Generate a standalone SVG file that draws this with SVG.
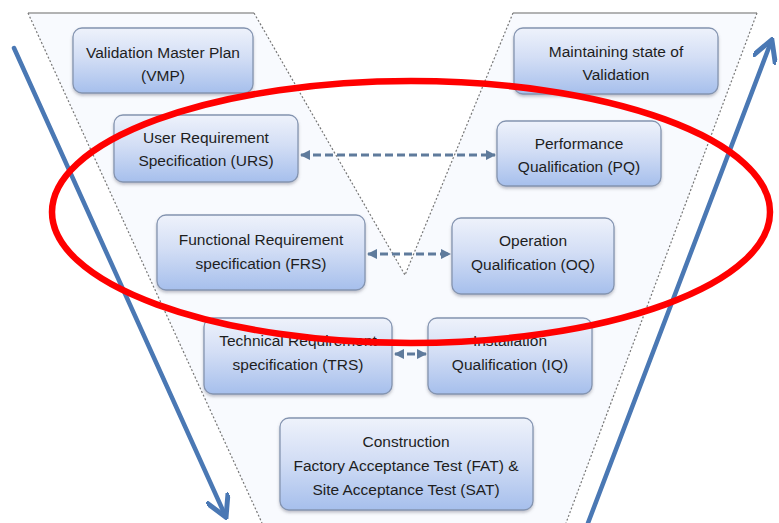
<svg xmlns="http://www.w3.org/2000/svg" width="779" height="523" viewBox="0 0 779 523">
  <defs>
    <linearGradient id="boxFill" x1="0" y1="0" x2="0" y2="1">
      <stop offset="0" stop-color="#eef2fb"/>
      <stop offset="0.45" stop-color="#d3def5"/>
      <stop offset="1" stop-color="#a6bfec"/>
    </linearGradient>
    <filter id="shadow" x="-10%" y="-10%" width="120%" height="130%">
      <feDropShadow dx="0" dy="2" stdDeviation="1.5" flood-color="#556" flood-opacity="0.35"/>
    </filter>
    <marker id="headLink" viewBox="0 0 10 10" refX="9" refY="5" markerWidth="3.5" markerHeight="3.5" orient="auto-start-reverse">
      <path d="M0,0 L10,5 L0,10 z" fill="#5f7b9c"/>
    </marker>
    <marker id="headFlow" viewBox="0 0 10 10" refX="8" refY="5" markerWidth="5.5" markerHeight="5.5" orient="auto">
      <path d="M0,0 L9,5 L0,10" fill="none" stroke="#4a78b4" stroke-width="2"/>
    </marker>
  </defs>
  <style>
    .box { fill: url(#boxFill); stroke: #8494b0; stroke-width: 1.3; filter: url(#shadow); }
    .label { font-family: "Liberation Sans", Arial, sans-serif; font-size: 15.5px; fill: #1e1e1e; text-anchor: middle; }
    .edge { fill: none; stroke: #9a9a9a; stroke-width: 1.6; }
    .guide { fill: none; stroke: #777; stroke-width: 1.2; stroke-dasharray: 2 2; }
    .flow { fill: none; stroke: #4a78b4; stroke-width: 4.5; stroke-linecap: round; }
    .link { fill: none; stroke: #5f7b9c; stroke-width: 3; stroke-dasharray: 8 4; }
    .ring { fill: none; stroke: #ff0000; stroke-width: 6.5; }
  </style>

  <rect width="779" height="523" fill="#ffffff"/>

  <!-- funnel outline -->
  <g id="frame">
    <path d="M28,13 L262,523 L566,523 L757,13 Z" fill="#f8fafe" stroke="none"/>
    <path d="M254,13 L405,275 L513,13 Z" fill="#ffffff" stroke="none"/>
    <line class="edge" x1="28" y1="13" x2="254" y2="13"/>
    <line class="edge" x1="513" y1="13" x2="757" y2="13"/>
    <line class="guide" x1="28" y1="13" x2="262" y2="523"/>
    <line class="guide" x1="254" y1="13" x2="405" y2="275"/>
    <line class="guide" x1="513" y1="13" x2="405" y2="275"/>
    <line class="guide" x1="757" y1="13" x2="566" y2="523"/>
  </g>

  <!-- process direction arrows -->
  <g id="flows">
    <line class="flow" x1="14" y1="48" x2="225" y2="515" marker-end="url(#headFlow)"/>
    <line class="flow" x1="588" y1="523" x2="771" y2="42" marker-end="url(#headFlow)"/>
  </g>

  <!-- links between specification and qualification stages -->
  <g id="connectors">
    <line class="link" x1="301" y1="155" x2="495" y2="155" marker-start="url(#headLink)" marker-end="url(#headLink)"/>
    <line class="link" x1="368" y1="254" x2="450" y2="254" marker-start="url(#headLink)" marker-end="url(#headLink)"/>
    <line class="link" x1="395" y1="354" x2="426" y2="354" marker-start="url(#headLink)" marker-end="url(#headLink)"/>
  </g>

  <g id="vmp">
    <rect class="box" x="73" y="28" width="180" height="65" rx="9"/>
    <text class="label" x="163" y="58">Validation Master Plan</text>
    <text class="label" x="163" y="81">(VMP)</text>
  </g>
  <g id="urs">
    <rect class="box" x="114" y="115" width="184" height="67" rx="9"/>
    <text class="label" x="206" y="143">User Requirement</text>
    <text class="label" x="206" y="166">Specification (URS)</text>
  </g>
  <g id="frs">
    <rect class="box" x="157" y="215" width="208" height="75" rx="9"/>
    <text class="label" x="261" y="245">Functional Requirement</text>
    <text class="label" x="261" y="269">specification (FRS)</text>
  </g>
  <g id="trs">
    <rect class="box" x="204" y="318" width="188" height="76" rx="9"/>
    <text class="label" x="298" y="346">Technical Requirement</text>
    <text class="label" x="298" y="370">specification (TRS)</text>
  </g>
  <g id="maintain">
    <rect class="box" x="514" y="28" width="204" height="66" rx="9"/>
    <text class="label" x="616" y="57">Maintaining state of</text>
    <text class="label" x="616" y="80">Validation</text>
  </g>
  <g id="pq">
    <rect class="box" x="497" y="121" width="164" height="65" rx="9"/>
    <text class="label" x="579" y="149">Performance</text>
    <text class="label" x="579" y="172">Qualification (PQ)</text>
  </g>
  <g id="oq">
    <rect class="box" x="452" y="218" width="162" height="76" rx="9"/>
    <text class="label" x="533" y="246">Operation</text>
    <text class="label" x="533" y="270">Qualification (OQ)</text>
  </g>
  <g id="iq">
    <rect class="box" x="428" y="318" width="164" height="76" rx="9"/>
    <text class="label" x="510" y="346">Installation</text>
    <text class="label" x="510" y="370">Qualification (IQ)</text>
  </g>
  <g id="construction">
    <rect class="box" x="280" y="418" width="253" height="92" rx="9"/>
    <text class="label" x="406" y="447">Construction</text>
    <text class="label" x="406" y="471">Factory Acceptance Test (FAT) &amp;</text>
    <text class="label" x="406" y="495">Site Acceptance Test (SAT)</text>
  </g>

  <!-- highlight ring -->
  <ellipse class="ring" cx="411" cy="212" rx="359" ry="131"/>
</svg>
